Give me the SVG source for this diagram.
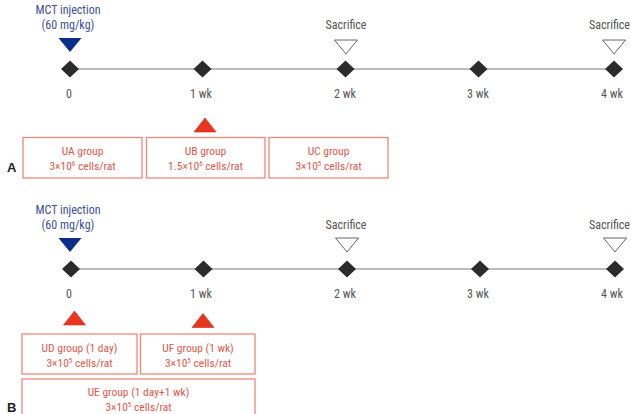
<svg xmlns="http://www.w3.org/2000/svg" width="631" height="414" viewBox="0 0 631 414">
<style>
text{font-family:"Liberation Sans Narrow","Roboto Condensed","Liberation Sans",Arial,sans-serif;text-anchor:middle}
.mct{font-size:12px;fill:#3d4f98}
.sac{font-size:12px;fill:#555}
.end{text-anchor:end}
.tick{font-size:12px;fill:#555}
.box rect{fill:#fff;stroke:#f0887a;stroke-width:1.3}
.box text{font-size:11.5px;fill:#e0584a}
.blue{fill:#0c2d8a}
.open{fill:#fff;stroke:#666;stroke-width:1}
.red{fill:#ea3420;stroke:#b8301e;stroke-width:0.6}
.dia{fill:#2b2b2b}
.axis{stroke:#7a7a7a;stroke-width:1.2}
.panel{font-family:"Liberation Sans",Arial,sans-serif;font-size:13px;font-weight:bold;fill:#222;text-anchor:start}
</style>
<defs>
<path id="d" d="M0,-8.5 L9,0 L0,8.5 L-9,0 Z"/>
<path id="tdown" d="M-11.5,0 L11.5,0 L0,14 Z"/>
<path id="tup" d="M-11,14 L11,14 L0,0 Z"/>
</defs>

<g id="connectors">
<line class="axis" x1="70" y1="69" x2="614" y2="69"/>
<line class="axis" x1="70" y1="269" x2="614" y2="269"/>
</g>

<!-- Panel A -->
<g id="A-mct">
<text class="mct" x="68" y="14">MCT injection</text>
<text class="mct" x="68" y="29">(60 mg/kg)</text>
<use href="#tdown" class="blue" x="70" y="38"/>
</g>
<g id="A-sac2">
<text class="sac" x="346" y="29">Sacrifice</text>
<use href="#tdown" class="open" x="346" y="40"/>
</g>
<g id="A-sac4">
<text class="sac end" x="630" y="29">Sacrifice</text>
<use href="#tdown" class="open" x="614" y="40"/>
</g>
<g id="A-t0"><use href="#d" class="dia" x="70" y="69"/><text class="tick" x="69" y="98">0</text></g>
<g id="A-t1"><use href="#d" class="dia" x="202.5" y="69"/><text class="tick" x="201" y="98">1 wk</text></g>
<g id="A-t2"><use href="#d" class="dia" x="345.5" y="69"/><text class="tick" x="345" y="98">2 wk</text></g>
<g id="A-t3"><use href="#d" class="dia" x="478.5" y="69"/><text class="tick" x="478" y="98">3 wk</text></g>
<g id="A-t4"><use href="#d" class="dia" x="614" y="69"/><text class="tick" x="612" y="98">4 wk</text></g>
<g id="A-ub-arrow"><use href="#tup" class="red" x="205" y="118"/></g>
<g id="UA" class="box">
<rect x="23" y="137.5" width="119" height="40.5"/>
<text x="82.5" y="155">UA group</text>
<text x="82.5" y="170">3×10<tspan font-size="7" dy="-4">6</tspan><tspan dy="4"> cells/rat</tspan></text>
</g>
<g id="UB" class="box">
<rect x="146.5" y="137.5" width="118.5" height="40.5"/>
<text x="205.5" y="155">UB group</text>
<text x="205.5" y="170">1.5×10<tspan font-size="7" dy="-4">6</tspan><tspan dy="4"> cells/rat</tspan></text>
</g>
<g id="UC" class="box">
<rect x="269" y="137.5" width="119" height="40.5"/>
<text x="328.5" y="155">UC group</text>
<text x="328.5" y="170">3×10<tspan font-size="7" dy="-4">5</tspan><tspan dy="4"> cells/rat</tspan></text>
</g>
<text class="panel" x="7" y="172">A</text>

<!-- Panel B -->
<g id="B-mct">
<text class="mct" x="68" y="214">MCT injection</text>
<text class="mct" x="68" y="229">(60 mg/kg)</text>
<use href="#tdown" class="blue" x="70" y="238"/>
</g>
<g id="B-sac2">
<text class="sac" x="346" y="229">Sacrifice</text>
<use href="#tdown" class="open" x="347" y="238"/>
</g>
<g id="B-sac4">
<text class="sac end" x="630" y="229">Sacrifice</text>
<use href="#tdown" class="open" x="615" y="238"/>
</g>
<g id="B-t0"><use href="#d" class="dia" x="71" y="269"/><text class="tick" x="69" y="298">0</text></g>
<g id="B-t1"><use href="#d" class="dia" x="203.5" y="269"/><text class="tick" x="201" y="298">1 wk</text></g>
<g id="B-t2"><use href="#d" class="dia" x="347" y="269"/><text class="tick" x="345" y="298">2 wk</text></g>
<g id="B-t3"><use href="#d" class="dia" x="480" y="269"/><text class="tick" x="478" y="298">3 wk</text></g>
<g id="B-t4"><use href="#d" class="dia" x="615" y="269"/><text class="tick" x="612" y="298">4 wk</text></g>
<g id="B-ud-arrow"><use href="#tup" class="red" x="74.5" y="311"/></g>
<g id="B-uf-arrow"><use href="#tup" class="red" x="203" y="313.5"/></g>
<g id="UD" class="box">
<rect x="22" y="334" width="115" height="40"/>
<text x="79.5" y="352">UD group (1 day)</text>
<text x="79.5" y="367">3×10<tspan font-size="7" dy="-4">5</tspan><tspan dy="4"> cells/rat</tspan></text>
</g>
<g id="UF" class="box">
<rect x="140.5" y="334" width="114.5" height="40"/>
<text x="198" y="352">UF group (1 wk)</text>
<text x="198" y="367">3×10<tspan font-size="7" dy="-4">5</tspan><tspan dy="4"> cells/rat</tspan></text>
</g>
<g id="UE" class="box">
<rect x="22" y="379" width="233" height="45"/>
<text x="138.5" y="396">UE group (1 day+1 wk)</text>
<text x="138.5" y="411">3×10<tspan font-size="7" dy="-4">5</tspan><tspan dy="4"> cells/rat</tspan></text>
</g>
<text class="panel" x="7" y="412">B</text>
</svg>
